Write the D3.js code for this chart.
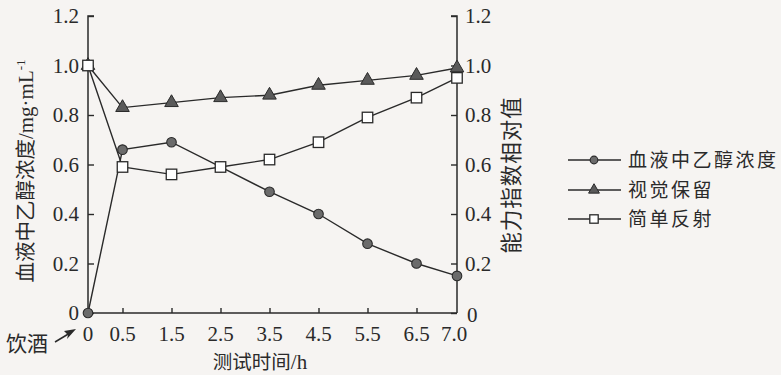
<!DOCTYPE html>
<html>
<head>
<meta charset="utf-8">
<script src="https://cdn.jsdelivr.net/npm/d3@7"></script>
<style>
  html, body { margin: 0; padding: 0; background: #f6f4f2; }
  svg { display: block; }
</style>
</head>
<body>
<svg id="chart" width="781" height="375"></svg>
<script>
// Measurement times (h) and tick labels
const times = [0, 0.5, 1.5, 2.5, 3.5, 4.5, 5.5, 6.5, 7.0];
const timeLabels = ["0", "0.5", "1.5", "2.5", "3.5", "4.5", "5.5", "6.5", "7.0"];
const yTicks = [0, 0.2, 0.4, 0.6, 0.8, 1.0, 1.2];
const yTickLabels = ["0", "0.2", "0.4", "0.6", "0.8", "1.0", "1.2"];

// Blood ethanol concentration (mg·mL⁻¹), left axis
const ethanol = [0, 0.66, 0.69, 0.59, 0.49, 0.40, 0.28, 0.20, 0.15];
// Ability index relative values, right axis
const visualRetention = [1.0, 0.83, 0.85, 0.87, 0.88, 0.92, 0.94, 0.96, 0.99];
const simpleReaction = [1.0, 0.59, 0.56, 0.59, 0.62, 0.69, 0.79, 0.87, 0.95];

const legendNames = ["血液中乙醇浓度", "视觉保留", "简单反射"];

const svg = d3.select("#chart");
const serif = "'Liberation Serif', 'DejaVu Serif', serif";
const cjk = "'Noto Sans CJK SC', 'Liberation Serif', sans-serif";
const ink = "#2a2a2a";

// Time axis: first and last intervals drawn wider than the hourly spacing
const x = d3.scaleLinear().domain([0, 0.5, 6.5, 7.0]).range([88, 122.5, 416.5, 457]);
const y = d3.scaleLinear().domain([0, 1.2]).range([313, 16]);

const g = svg.append("g");

// Axes
const left = g.append("g").attr("transform", `translate(${x(0)},0)`)
  .call(d3.axisRight(y).tickValues(yTicks).tickSize(6).tickFormat(""));
const right = g.append("g").attr("transform", `translate(${x(7)},0)`)
  .call(d3.axisLeft(y).tickValues(yTicks).tickSize(6).tickFormat(""));
const bottom = g.append("g").attr("transform", `translate(0,${y(0)})`)
  .call(d3.axisTop(x).tickValues(times.slice(1, -1)).tickSize(5).tickFormat(""));
[left, right, bottom].forEach(a => {
  a.select(".domain").attr("stroke", ink).attr("stroke-width", 1.5);
  a.selectAll(".tick line").attr("stroke", ink).attr("stroke-width", 1.4);
});
left.select(".domain").attr("d", `M0,${y(0)}V${y(1.2)}H6`);
right.select(".domain").attr("d", `M0,${y(0)}V${y(1.2)}H-6`);
bottom.select(".domain").attr("d", `M${x(0)},0H${x(7)}`);

// Tick labels
g.selectAll(".yl").data(yTicks).join("text")
  .attr("x", 79).attr("y", d => y(d) + 7)
  .attr("text-anchor", "end").attr("font-family", serif).attr("font-size", 21).attr("fill", ink)
  .text((d, i) => yTickLabels[i]);
g.selectAll(".yr").data(yTicks).join("text")
  .attr("x", d => d === 0 ? 467 : 465).attr("y", d => d === 0 ? y(d) + 9 : y(d) + 7)
  .attr("text-anchor", "start").attr("font-family", serif).attr("font-size", 21).attr("fill", ink)
  .text((d, i) => yTickLabels[i]);
g.selectAll(".xl").data(times).join("text")
  .attr("x", d => x(d) + (d === 7 ? -3 : 0)).attr("y", 341)
  .attr("text-anchor", "middle").attr("font-family", serif).attr("font-size", 21).attr("fill", ink)
  .text((d, i) => timeLabels[i]);

// Axis titles
const lt = g.append("text").attr("transform", "translate(33,171) rotate(-90)")
  .attr("text-anchor", "middle").attr("font-size", 20.5).attr("fill", ink);
lt.append("tspan").attr("font-family", cjk).text("血液中乙醇浓度");
lt.append("tspan").attr("font-family", serif).attr("font-size", 21).text("/mg·mL");
lt.append("tspan").attr("font-family", serif).attr("font-size", 13).attr("dy", -8).text("-1");

g.append("text").attr("transform", "translate(519,175) rotate(-90)")
  .attr("text-anchor", "middle").attr("font-family", cjk).attr("font-size", 21.5).attr("fill", ink)
  .attr("letter-spacing", 1).text("能力指数相对值");

const xt = g.append("text").attr("x", 260).attr("y", 369)
  .attr("text-anchor", "middle").attr("font-size", 19.5).attr("fill", ink);
xt.append("tspan").attr("font-family", cjk).text("测试时间");
xt.append("tspan").attr("font-family", serif).attr("font-size", 21).text("/h");

// Drinking marker and arrow
g.append("text").attr("x", 6).attr("y", 351).attr("font-family", cjk).attr("font-size", 21)
  .attr("fill", ink).text("饮酒");
g.append("path").attr("d", "M55,342 L70,333").attr("stroke", ink).attr("stroke-width", 1.5).attr("fill", "none");
g.append("path").attr("d", "M76,329 L64,331 L68,335 L67,339 Z").attr("fill", ink);

// Series
const line = d3.line().x(d => x(d[0])).y(d => y(d[1]));
const series = [
  { vals: ethanol, shape: "circle" },
  { vals: visualRetention, shape: "triangle" },
  { vals: simpleReaction, shape: "square" }
];
const triangle = d3.symbol().type(d3.symbolTriangle);
function drawMarker(sel, shape, cx, cy, scale) {
  if (shape === "circle") {
    sel.append("circle").attr("cx", cx).attr("cy", cy).attr("r", 4.8 * scale)
      .attr("fill", "#6b6b6b").attr("stroke", ink).attr("stroke-width", 1.1);
  } else if (shape === "triangle") {
    sel.append("path").attr("d", triangle.size(80 * scale * scale)())
      .attr("transform", `translate(${cx},${cy})`)
      .attr("fill", "#5a5a5a").attr("stroke", ink).attr("stroke-width", 1);
  } else {
    const s = 10.5 * scale;
    sel.append("rect").attr("x", cx - s / 2).attr("y", cy - s / 2).attr("width", s).attr("height", s)
      .attr("fill", "#ffffff").attr("stroke", ink).attr("stroke-width", 1.3);
  }
}
series.forEach(s => {
  const pts = times.map((t, i) => [t, s.vals[i]]);
  g.append("path").attr("d", line(pts)).attr("fill", "none").attr("stroke", ink).attr("stroke-width", 1.4);
});
// circles first, then triangles, squares on top
series.forEach(s => {
  times.forEach((t, i) => drawMarker(g, s.shape, x(t), y(s.vals[i]), 1));
});

// Legend
const legY = [160, 190, 219];
series.forEach((s, i) => {
  g.append("line").attr("x1", 568).attr("x2", 621).attr("y1", legY[i]).attr("y2", legY[i])
    .attr("stroke", ink).attr("stroke-width", 1.4);
  drawMarker(g, s.shape, 594, legY[i], 0.8);
  g.append("text").attr("x", 628).attr("y", legY[i] + 7).attr("font-family", cjk)
    .attr("font-size", 19).attr("letter-spacing", 2.5).attr("fill", ink).text(legendNames[i]);
});
</script>
</body>
</html>
